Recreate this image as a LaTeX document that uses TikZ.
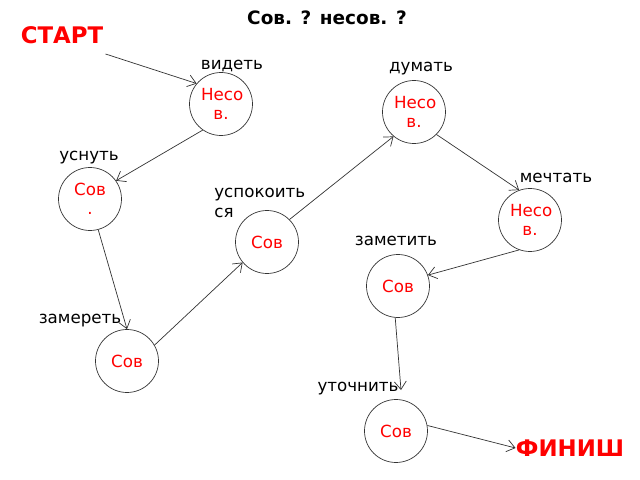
\documentclass[tikz,border=0pt]{standalone}
\usepackage{fontspec}
\setmainfont{DejaVu Sans}
\usetikzlibrary{arrows.meta}
\begin{document}
\begin{tikzpicture}[x=0.02cm,y=-0.02cm,
  vert/.style={circle,draw=black!80,minimum size=1.26cm,inner sep=0pt,text=red,
    font=\fontsize{9.5}{11}\selectfont,align=center,text width=0.8cm},
  lbl/.style={font=\fontsize{9.5}{11}\selectfont,inner sep=0pt},
  big/.style={font=\fontsize{13}{15}\bfseries\selectfont,text=red,inner sep=0pt},
  arr/.style={-{Straight Barb[length=1.6mm,width=2.4mm]},black!80,thin}]
\useasboundingbox (0,0) rectangle (640,480);

% title and ends
\node[font=\fontsize{10.5}{12}\bfseries\selectfont] (title) at (327,18) {Сов. ? несов. ?};
\node[big] (start) at (62,35) {СТАРТ};
\node[big] (finish) at (570,448) {ФИНИШ};

% circles
\node[vert] (videt) at (221,104) {Несо в.};
\node[vert] (dumat) at (414,112) {Несо в.};
\node[vert] (usnut) at (90,199) {Сов .};
\node[vert] (mechtat) at (530,220) {Несо в.};
\node[vert] (uspok) at (267,242) {Сов};
\node[vert] (zamet) at (398,286) {Сов};
\node[vert] (zamer) at (127,361) {Сов};
\node[vert] (utoch) at (396,431) {Сов};

% labels
\node[lbl] (l1) at (232,66) {видеть};
\node[lbl] (l2) at (421,69) {думать};
\node[lbl] (l3) at (89,158) {уснуть};
\node[lbl] (l4) at (556,178) {мечтать};
\node[lbl,align=left,anchor=west] (l5) at (214,203) {успокоить\\ся};
\node[lbl] (l6) at (396,241) {заметить};
\node[lbl] (l7) at (80,321) {замереть};
\node[lbl] (l8) at (358,389) {уточнить};

% connectors
\coordinate (tip) at (401,390);
\draw[arr] (start.south east) ++(2,10) -- (videt.140);
\draw[arr] (videt.235) -- (usnut.35);
\draw[arr] (usnut.285) -- (zamer.90);
\draw[arr] (zamer.30) -- (uspok.220);
\draw[arr] (uspok.45) -- (dumat.230);
\draw[arr] (dumat.315) -- (mechtat.110);
\draw[arr] (mechtat.250) -- (zamet.20);
\draw[arr] (zamet.265) -- (tip);
\draw[arr] (utoch.10) -- (finish.west);
\end{tikzpicture}
\end{document}
